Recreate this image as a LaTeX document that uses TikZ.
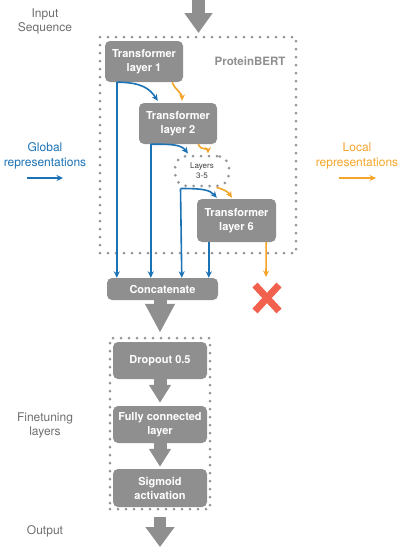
\documentclass[tikz,border=0pt]{standalone}
\usepackage{fontspec}
\setmainfont{TeX Gyre Heros}
\usetikzlibrary{arrows.meta,calc}
\definecolor{boxgray}{HTML}{8F8F8F}
\definecolor{dotgray}{HTML}{959595}
\definecolor{labgray}{HTML}{6E6E6E}
\definecolor{gblue}{HTML}{1B72B5}
\definecolor{lorange}{HTML}{F4A52A}
\definecolor{xred}{HTML}{F2604E}
\tikzset{
  layerbox/.style={fill=boxgray, rounded corners=5pt, text=white, font=\fontsize{11}{14}\selectfont\bfseries, align=center, inner sep=0pt},
  dotframe/.style={draw=dotgray, line width=3pt, line cap=round, dash pattern=on 0pt off 8pt},
  bluearrow/.style={draw=gblue, line width=1.6pt, -{Stealth[length=6.5pt,width=6pt]}},
  orangearrow/.style={draw=lorange, line width=1.6pt, -{Stealth[length=6.5pt,width=6pt]}},
  bigarrow/.style n args={3}{draw=boxgray, line width=#1, -{Triangle[width=#2,length=#3]}},
  lbl/.style={text=labgray, font=\fontsize{12}{14.5}\selectfont, align=center},
}
\begin{document}
\begin{tikzpicture}[x=1pt,y=-1pt]
\useasboundingbox (0,0) rectangle (402,550);
% frames
\node[dotframe, minimum width=196pt, minimum height=216pt, inner sep=0pt] (pb) at (198,145) {};
\node[dotframe, minimum width=100pt, minimum height=171pt, inner sep=0pt] (ft) at (160,423.5) {};
\node[dotframe, rounded corners=12pt, minimum width=54pt, minimum height=30pt, inner sep=0pt, align=center,
      text=black!75, font=\fontsize{8}{10}\selectfont] (l35) at (202,171) {Layers\\3-5};
% boxes
\node[layerbox, minimum width=78pt, minimum height=41pt] (l1) at (144,61.5) {Transformer\\layer 1};
\node[layerbox, minimum width=78pt, minimum height=41pt] (l2) at (178,123.5) {Transformer\\layer 2};
\node[layerbox, minimum width=79pt, minimum height=43pt] (l6) at (236.5,220.5) {Transformer\\layer 6};
\node[layerbox, minimum width=111pt, minimum height=22pt] (cat) at (162.5,289) {Concatenate};
\node[layerbox, minimum width=94pt, minimum height=37pt] (drop) at (160,360.5) {Dropout 0.5};
\node[layerbox, minimum width=94pt, minimum height=37pt] (fc) at (160,424.5) {Fully connected\\layer};
\node[layerbox, minimum width=94pt, minimum height=38pt] (sig) at (160,488) {Sigmoid\\activation};
% labels
\node[text=boxgray, font=\fontsize{11.5}{14}\selectfont\bfseries] (pbl) at (250,61) {ProteinBERT};
\node[lbl] (inl) at (45,21.5) {Input\\Sequence};
\node[lbl, text=gblue] (gl) at (45,156) {Global\\representations};
\node[lbl, text=lorange] (ll) at (357,156) {Local\\representations};
\node[lbl] (ftl) at (45,425.5) {Finetuning\\layers};
\node[lbl] (outl) at (45,531) {Output};
% legend arrows
\coordinate (gs) at (27,178); \coordinate (ge) at (63,178);
\coordinate (ls) at (339,178); \coordinate (le) at (376,178);
\draw[bluearrow] (gs) -- (ge);
\draw[orangearrow] (ls) -- (le);
% big gray arrows
\coordinate (inp) at (198.5,0); \coordinate (inend) at (198.5,33);
\draw[bigarrow={13pt}{27pt}{20pt}] (inp) -- (inend);
\draw[bigarrow={13pt}{28pt}{29pt}] (cat.south -| drop.north) -- ($(drop.north)+(0,-9)$);
\draw[bigarrow={13pt}{21pt}{18pt}] (drop.south) -- ($(fc.north)+(0,-3)$);
\draw[bigarrow={13pt}{21pt}{18pt}] (fc.south) -- ($(sig.north)+(0,-2)$);
\coordinate (outp) at (160,547);
\draw[bigarrow={12pt}{28pt}{20pt}] ($(sig.south)+(0,10)$) -- (outp);
% layer 1
\draw[bluearrow] ($(l1.south west)+(12,0)$) -- ($(cat.north west)+(10,0)$);
\draw[bluearrow] ($(l1.south west)+(12,0)$) .. controls +(25,0) and +(-8,-12) .. ($(l2.north west)+(19,-2)$);
\draw[orangearrow] ($(l1.south east)+(-11,0)$) .. controls +(3,8) and +(0,-8) .. ($(l2.north)+(4,-2)$);
% layer 2
\draw[bluearrow] ($(l2.south west)+(12,0)$) -- ($(cat.north west)+(44,0)$);
\draw[bluearrow] ($(l2.south west)+(12,0)$) .. controls +(22,0) and +(-7,-9) .. ($(l35.north)+(-14,-1)$);
\draw[orangearrow] ($(l2.south east)+(-19,0)$) .. controls +(3,7) and +(0,-6) .. ($(l35.north)+(6,-1)$);
% layers 3-5
\draw[bluearrow] ($(l35.south west)+(7,1)$) -- ($(cat.north west)+(75,0)$);
\draw[bluearrow] ($(l35.south west)+(7,1)$) .. controls +(22,0) and +(-7,-8) .. ($(l6.north west)+(20,-1)$);
\draw[orangearrow] ($(l35.south east)+(-14,0)$) .. controls +(8,2) and +(-4,-6) .. ($(l6.north)+(-4.5,-1)$);
% layer 6
\draw[bluearrow] ($(l6.south west)+(12,0)$) -- ($(cat.north west)+(102,0)$);
\coordinate (dropend) at (266,277);
\draw[orangearrow] ($(l6.south east)+(-10,0)$) -- (dropend);
% red cross
\coordinate (xm) at (267,298);
\draw[xred, line width=7pt] ($(xm)+(-12,-13)$) -- ($(xm)+(12,13)$);
\draw[xred, line width=7pt] ($(xm)+(12,-13)$) -- ($(xm)+(-12,13)$);
\end{tikzpicture}
\end{document}
